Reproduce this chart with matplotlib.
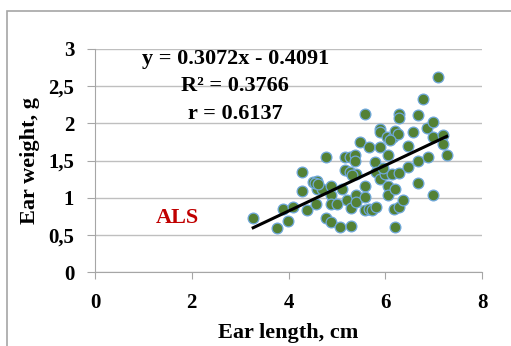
import numpy as np
import matplotlib
matplotlib.use("Agg")
import matplotlib.pyplot as plt
from matplotlib.patches import Rectangle

# Ear length (cm) and ear weight (g)
ear_length = [3.27, 3.77, 3.88, 3.98, 4.09, 4.27, 4.27, 4.38, 4.51, 4.58,
              4.58, 4.57, 4.69, 4.78, 4.78, 4.88, 4.88, 4.88, 4.88, 5.00,
              5.07, 5.10, 5.17, 5.17, 5.20, 5.27, 5.27, 5.29, 5.29, 5.38,
              5.38, 5.40, 5.40, 5.40, 5.47, 5.58, 5.58, 5.58, 5.58, 5.67,
              5.67, 5.72, 5.79, 5.81, 5.81, 5.89, 5.89, 5.89, 5.89, 5.99,
              6.04, 6.06, 6.06, 6.06, 6.13, 6.17, 6.20, 6.20, 6.18, 6.20,
              6.27, 6.29, 6.29, 6.29, 6.29, 6.37, 6.48, 6.48, 6.58, 6.68,
              6.68, 6.68, 6.78, 6.86, 6.88, 6.98, 6.98, 6.98, 7.10, 7.19,
              7.20, 7.27, 4.55, 4.60, 5.32, 5.95, 6.10]
ear_weight = [0.72, 0.59, 0.85, 0.68, 0.87, 1.34, 1.09, 0.84, 1.21, 1.23,
              1.12, 0.92, 1.12, 1.55, 0.73, 1.16, 1.03, 0.91, 0.67, 0.91,
              0.60, 1.12, 1.55, 1.37, 0.97, 1.55, 1.34, 0.86, 0.62, 1.57,
              1.50, 1.32, 1.04, 0.94, 1.75, 2.13, 1.16, 1.01, 0.83, 1.68,
              0.85, 0.83, 1.48, 0.87, 1.34, 1.93, 1.88, 1.68, 1.25, 1.32,
              1.81, 1.57, 1.16, 1.03, 1.32, 1.81, 1.90, 1.11, 0.85, 0.60,
              1.86, 2.13, 2.07, 1.33, 0.87, 0.97, 1.69, 1.41, 1.89, 2.11,
              1.49, 1.20, 2.33, 1.94, 1.55, 2.02, 1.82, 1.04, 2.62, 1.84,
              1.72, 1.58, 1.20, 1.18, 1.30, 1.40, 1.78]

slope = 0.3072
intercept = -0.4091
eq_lines = ["y = 0.3072x - 0.4091", "R² = 0.3766", "r = 0.6137"]
x_ticks = [0, 2, 4, 6, 8]
y_ticks = [0, 0.5, 1, 1.5, 2, 2.5, 3]
y_tick_labels = ["0", "0,5", "1", "1,5", "2", "2,5", "3"]

plt.rcParams['font.family'] = ['Liberation Serif', 'DejaVu Serif']
plt.rcParams['font.weight'] = 'bold'

fig = plt.figure(figsize=(5.11, 3.46), dpi=100)
ax = fig.add_axes([95/511, 1 - 272/346, (482 - 95)/511, (272 - 49)/346])

# outer chart frame (cut off on the right and bottom)
fig.patches.append(Rectangle((7/511, -0.1), 1.2, 1 - 11/346 + 0.1,
                             transform=fig.transFigure, fill=False,
                             edgecolor='#a6a6a6', linewidth=1.2))

ax.scatter(ear_length, ear_weight, s=60, color='#538135',
           edgecolors='#6fa8dc', linewidths=0.9, zorder=3)

xl = np.array([min(ear_length), max(ear_length)])
ax.plot(xl, slope * xl + intercept, color='black', lw=2.2, zorder=4)

ax.set_xlim(0, 8)
ax.set_ylim(0, 3)
ax.set_xticks(x_ticks)
ax.set_yticks(y_ticks)
ax.set_yticklabels(y_tick_labels)
ax.grid(axis='y', color='#bfbfbf', lw=1)
ax.set_axisbelow(True)
for s in ['top', 'right']:
    ax.spines[s].set_visible(False)
for s in ['left', 'bottom']:
    ax.spines[s].set_color('#a6a6a6')
ax.tick_params(axis='y', length=6, color='#a6a6a6', pad=9, labelsize=15)
ax.tick_params(axis='x', length=5, color='#a6a6a6', pad=10, labelsize=15)

ax.set_xlabel('Ear length, cm', fontsize=16, fontweight='bold', labelpad=7)
ax.set_ylabel('Ear weight, g', fontsize=16, fontweight='bold', labelpad=0)
ax.yaxis.set_label_coords(-0.142, 0.5)

for i, line in enumerate(eq_lines):
    ax.text(2.9, 2.87 - i * 0.37, line, ha='center', va='center',
            fontsize=16, fontweight='bold')
ax.text(1.7, 0.72, 'ALS', color='#c00000', ha='center', va='center',
        fontsize=16, fontweight='bold')

fig.savefig('out.png', dpi=100)
